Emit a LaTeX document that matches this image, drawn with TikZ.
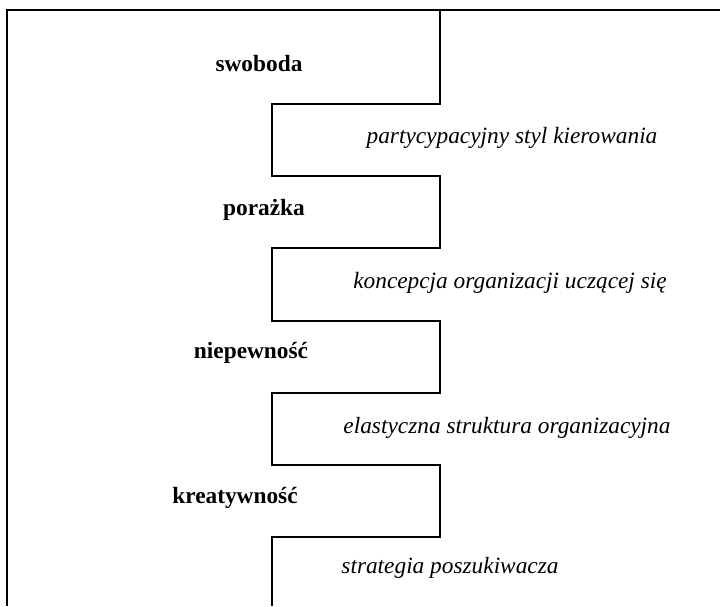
\documentclass[tikz,border=0pt]{standalone}
\usepackage{fontspec}
\setmainfont{Liberation Serif}

\tikzset{
  quality/.style={font=\fontsize{17.5}{21}\selectfont\bfseries},
  answer/.style={font=\fontsize{17.5}{21}\selectfont\itshape},
  stepline/.style={line width=1pt}
}

\begin{document}
\begin{tikzpicture}
   [x=0.75pt,y=-0.75pt,every node/.style={inner sep=0pt,anchor=base}]
  \useasboundingbox (0,0) rectangle (720,606);

  % outer frame
  \draw[line width=1.7pt] (7,606) -- (7,10) -- (720,10);

  % steps
  \draw[stepline] (440,10) -- (440,104) -- (272,104) -- (272,176) -- (440,176)
     -- (440,248) -- (272,248) -- (272,321) -- (440,321) -- (440,393)
     -- (272,393) -- (272,465) -- (440,465) -- (440,537) -- (272,537) -- (272,606);

  \node[quality] (swoboda)     at (259,72)  {swoboda};
  \node[quality] (porazka)     at (264,215) {porażka};
  \node[quality] (niepewnosc)  at (251,358) {niepewność};
  \node[quality] (kreatywnosc) at (235,503) {kreatywność};

  \node[answer] (partycypacja) at (512,143) {partycypacyjny styl kierowania};
  \node[answer] (koncepcja)    at (510,288) {koncepcja organizacji uczącej się};
  \node[answer] (elastycznosc) at (507,433) {elastyczna struktura organizacyjna};
  \node[answer] (strategia)    at (450,573) {strategia poszukiwacza};

\end{tikzpicture}
\end{document}
